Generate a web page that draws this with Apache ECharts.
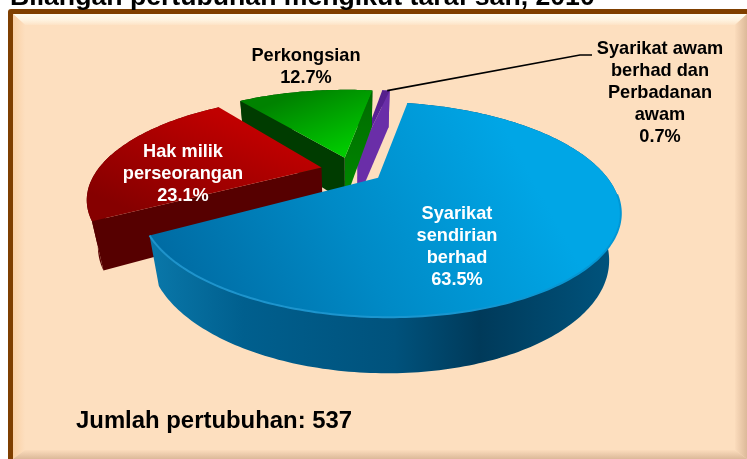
<!DOCTYPE html>
<html>
<head>
<meta charset="utf-8">
<style>html,body{margin:0;padding:0;background:#fff}#c{width:747px;height:459px}</style>
<script src="https://cdn.jsdelivr.net/npm/echarts@6/dist/echarts.min.js"></script>
</head>
<body>
<div id="c"></div>
<script>
const titleText = 'Bilangan pertubuhan mengikut taraf sah, 2010';
const categories = ['Syarikat\nsendirian\nberhad', 'Hak milik\nperseorangan', 'Perkongsian', 'Syarikat awam\nberhad dan\nPerbadanan\nawam'];
const shares = [63.5, 23.1, 12.7, 0.7];
const totalOrganisations = 537;

// Perspective pie model
const START = 78.6, EXPLODE = 0.14;
const CX = 352, CY = 170, AX = 224, AY = 93.7, K = 0.288, M = 0.04, B = 46.7;
const rad = d => d * Math.PI / 180;
function proj(x, y, z) {
  const w = 1 + K * y + M * z;
  return [CX + AX * x / w, CY + (-AY * y + B * z) / w];
}
const lg = (x, y, x2, y2, stops) => ({type: 'linear', x, y, x2, y2, colorStops: stops.map(c => ({offset: c[0], color: c[1]}))});
const looks = [
  { z: 40, labelColor: '#fff', labelAt: [457, 246.5],
    top: lg(0.05, 0.95, 0.75, 0.1, [[0, '#0069a0'], [0.5, '#008ac6'], [1, '#00a6e6']]),
    wall: lg(0, 0, 1, 0, [[0, '#0a78aa'], [0.2, '#005f8e'], [0.52, '#00527c'], [0.7, '#003a5a'], [1, '#00557f']]),
    edgeA: '#00527c', edgeB: '#00527c' },
  { z: 30, labelColor: '#fff', labelAt: [183, 173.5],
    top: lg(0.5, 0, 0.3, 1, [[0, '#c00000'], [0.4, '#a80000'], [1, '#860000']]),
    wall: '#5a0000', edgeA: '#560000', edgeB: '#560000' },
  { z: 20, labelColor: '#000', labelAt: [306, 66.5],
    top: lg(0.5, 0, 0.7, 1, [[0, '#008200'], [1, '#00cc00']]),
    wall: '#003c00', edgeA: '#003c00', edgeB: lg(0, 0, 0, 1, [[0, '#006a00'], [1, '#008a00']]) },
  { z: 10, labelColor: '#000', labelAt: [660, 92.5],
    top: lg(0.8, 0, 0.2, 1, [[0, '#55208c'], [1, '#5a22a0']]),
    wall: '#6a2ea8', edgeA: '#6a2ea8', edgeB: '#6a2ea8' }
];
// slice angular spans, clockwise from START
const spans = [];
shares.reduce((acc, v) => { const sweep = v * 3.6; spans.push([acc, acc - sweep]); return acc - sweep; }, START);

function renderSlice(params, api) {
  const i = params.dataIndex, [a0, a1] = spans[i], look = looks[i];
  const mid = rad((a0 + a1) / 2);
  const ox = EXPLODE * Math.cos(mid), oy = EXPLODE * Math.sin(mid);
  const arc = z => { const p = []; const n = Math.max(2, Math.ceil(a0 - a1));
    for (let j = 0; j <= n; j++) { const t = rad(a0 + (a1 - a0) * j / n); p.push(proj(ox + Math.cos(t), oy + Math.sin(t), z)); } return p; };
  const top = arc(0), bot = arc(1);
  const apex = proj(ox, oy, 0), apexB = proj(ox, oy, 1);
  const z = look.z;
  const kids = [];
  kids.push({type: 'polygon', z2: z, shape: {points: top.concat(bot.slice().reverse())}, style: {fill: look.wall}});
  // radial walls are drawn only when they face the viewer
  if (Math.sin(rad(a1 - 90)) < 0) kids.push({type: 'polygon', z2: z + 1, shape: {points: [apex, top[top.length - 1], bot[bot.length - 1], apexB]}, style: {fill: look.edgeB}});
  if (Math.sin(rad(a0 + 90)) < 0) kids.push({type: 'polygon', z2: z + 1, shape: {points: [apex, top[0], bot[0], apexB]}, style: {fill: look.edgeA}});
  kids.push({type: 'polygon', z2: z + 2, shape: {points: [apex].concat(top)}, style: {fill: look.top}});
  if (i === 0) {
    // soft rim highlight along the near edge of the large slice
    const rim = top.slice(88);
    kids.push({type: 'polyline', z2: z + 3, shape: {points: rim}, style: {fill: 'none', lineWidth: 2,
      stroke: lg(0, 0, 1, 0, [[0, '#1f93cb'], [0.6, '#1a96d0'], [1, '#0096d4']])}});
  }
  if (i === 3) {
    const lead = top[Math.floor(top.length / 2)];
    kids.push({type: 'polyline', z2: 60, shape: {points: [lead, [580, 55], [592, 55]]}, style: {fill: 'none', stroke: '#000', lineWidth: 1.6}});
  }
  kids.push({type: 'text', z2: 70, x: look.labelAt[0], y: look.labelAt[1], style: {
    text: categories[i] + '\n' + api.value(0).toFixed(1) + '%',
    fill: look.labelColor, align: 'center', verticalAlign: 'middle', textAlign: 'center', textVerticalAlign: 'middle',
    font: 'bold 18.2px "Liberation Sans", Arial, sans-serif', lineHeight: 22}});
  return {type: 'group', children: kids};
}

const chart = echarts.init(document.getElementById('c'), null, {renderer: 'canvas'});
const W = 747, H = 459;
chart.setOption({
  animation: false,
  backgroundColor: '#fff',
  graphic: {elements: [
    {type: 'rect', z: -10, shape: {x: 8, y: 9, width: W - 8, height: H - 9, r: [3, 0, 0, 0]}, style: {fill: '#7f3f00'}},
    {type: 'rect', z: -9, shape: {x: 13, y: 14, width: W - 13, height: H - 14}, style: {fill: '#fddfbf'}},
    {type: 'polygon', z: -8, shape: {points: [[13, 14], [W, 14], [W - 12, 25], [25, 25]]},
      style: {fill: lg(0, 0, 0, 1, [[0, '#fffdf2'], [0.5, '#fff5e3'], [1, '#fde3c6']])}},
    {type: 'polygon', z: -8, shape: {points: [[13, 14], [25, 25], [25, H - 9], [13, H]]},
      style: {fill: lg(0, 0, 1, 0, [[0, '#f9cfa4'], [1, '#fddfbf']])}},
    {type: 'polygon', z: -8, shape: {points: [[W, 14], [W, H], [W - 12, H - 9], [W - 12, 25]]},
      style: {fill: lg(1, 0, 0, 0, [[0, '#dcb999'], [1, '#fbdcbc']])}},
    {type: 'polygon', z: -8, shape: {points: [[13, H], [W, H], [W - 12, H - 9], [25, H - 9]]},
      style: {fill: lg(0, 1, 0, 0, [[0, '#dcb999'], [1, '#fbdcbc']])}},
    {type: 'text', z: 5, x: 10, y: -2, style: {text: titleText, fill: '#000', align: 'left', verticalAlign: 'middle',
      font: 'bold 26.65px "Liberation Sans", Arial, sans-serif'}},
    {type: 'text', z: 5, x: 76, y: 421, style: {text: 'Jumlah pertubuhan: ' + totalOrganisations, fill: '#000', align: 'left', verticalAlign: 'middle',
      font: 'bold 23.9px "Liberation Sans", Arial, sans-serif'}}
  ]},
  series: [{
    type: 'custom',
    coordinateSystem: 'none',
    silent: true,
    clip: false,
    data: shares.map(v => [v]),
    renderItem: renderSlice
  }]
});
</script>
</body>
</html>
